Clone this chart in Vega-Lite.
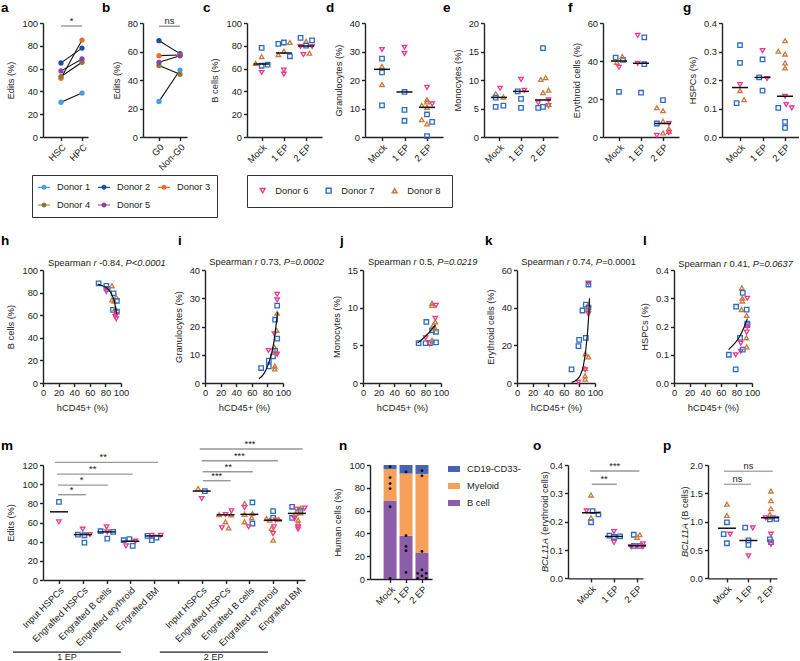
{
"$schema":"https://vega.github.io/schema/vega-lite/v6.json",
"background":"white",
"padding":{"left":1,"top":0,"right":0,"bottom":0},
"autosize":{"type":"pad"},
"spacing":10,
"resolve":{"scale":{"color":"independent","shape":"independent"},"legend":{"color":"independent","shape":"independent"}},
"datasets":{
"da":[{"x":0,"v":30.5,"d":"Donor 1"},{"x":1,"v":38.5,"d":"Donor 1"},{"x":0,"v":65,"d":"Donor 2"},{"x":1,"v":78,"d":"Donor 2"},{"x":0,"v":51.5,"d":"Donor 3"},{"x":1,"v":85,"d":"Donor 3"},{"x":0,"v":53,"d":"Donor 4"},{"x":1,"v":65.5,"d":"Donor 4"},{"x":0,"v":58,"d":"Donor 5"},{"x":1,"v":68.5,"d":"Donor 5"}],
"db":[{"x":0,"v":25,"d":"Donor 1"},{"x":1,"v":47,"d":"Donor 1"},{"x":0,"v":67.6,"d":"Donor 2"},{"x":1,"v":58.5,"d":"Donor 2"},{"x":0,"v":57.1,"d":"Donor 3"},{"x":1,"v":57.5,"d":"Donor 3"},{"x":0,"v":50.1,"d":"Donor 4"},{"x":1,"v":44,"d":"Donor 4"},{"x":0,"v":52.4,"d":"Donor 5"},{"x":1,"v":57,"d":"Donor 5"}],
"dc":[{"x":0,"g":0,"v":78.2,"d":"Donor 7"},{"x":0,"g":0,"v":70.5,"d":"Donor 8"},{"x":-0.27,"g":0,"v":64.6,"d":"Donor 8"},{"x":0,"g":0,"v":62.5,"d":"Donor 7"},{"x":0.27,"g":0,"v":63.4,"d":"Donor 7"},{"x":0,"g":0,"v":56.6,"d":"Donor 6"},
{"x":0.75,"g":1,"v":81.7,"d":"Donor 7"},{"x":1.0,"g":1,"v":82.9,"d":"Donor 7"},{"x":1.27,"g":1,"v":82.9,"d":"Donor 8"},{"x":1.0,"g":1,"v":75.2,"d":"Donor 8"},{"x":0.75,"g":1,"v":72.3,"d":"Donor 8"},{"x":1.27,"g":1,"v":70.8,"d":"Donor 7"},{"x":1.0,"g":1,"v":58.7,"d":"Donor 6"},{"x":1.0,"g":1,"v":55.1,"d":"Donor 6"},
{"x":1.75,"g":2,"v":87,"d":"Donor 7"},{"x":2.0,"g":2,"v":84,"d":"Donor 8"},{"x":2.27,"g":2,"v":84.7,"d":"Donor 7"},{"x":2.0,"g":2,"v":80.2,"d":"Donor 7"},{"x":1.75,"g":2,"v":79.4,"d":"Donor 6"},{"x":2.27,"g":2,"v":79.4,"d":"Donor 6"},{"x":1.88,"g":2,"v":72.3,"d":"Donor 6"},{"x":2.15,"g":2,"v":73.5,"d":"Donor 8"}],
"dd":[{"x":0,"g":0,"v":30.7,"d":"Donor 6"},{"x":0,"g":0,"v":27.5,"d":"Donor 7"},{"x":0,"g":0,"v":24.8,"d":"Donor 8"},{"x":0,"g":0,"v":22.7,"d":"Donor 7"},{"x":0,"g":0,"v":18.4,"d":"Donor 8"},{"x":0,"g":0,"v":11.1,"d":"Donor 7"},
{"x":1,"g":1,"v":31.5,"d":"Donor 6"},{"x":1,"g":1,"v":29.3,"d":"Donor 6"},{"x":1,"g":1,"v":15.8,"d":"Donor 7"},{"x":1,"g":1,"v":9.5,"d":"Donor 7"},{"x":1,"g":1,"v":5.7,"d":"Donor 7"},
{"x":2,"g":2,"v":17.4,"d":"Donor 6"},{"x":2,"g":2,"v":13.1,"d":"Donor 8"},{"x":2,"g":2,"v":12.3,"d":"Donor 8"},{"x":1.77,"g":2,"v":11.1,"d":"Donor 8"},{"x":2.23,"g":2,"v":11.6,"d":"Donor 6"},{"x":2,"g":2,"v":10.4,"d":"Donor 8"},{"x":2,"g":2,"v":7.9,"d":"Donor 7"},{"x":1.77,"g":2,"v":6.1,"d":"Donor 8"},{"x":2.23,"g":2,"v":5.3,"d":"Donor 7"},{"x":2,"g":2,"v":4.6,"d":"Donor 8"},{"x":2,"g":2,"v":0.3,"d":"Donor 7"}],
"de":[{"x":0.05,"g":0,"v":8.55,"d":"Donor 6"},{"x":-0.15,"g":0,"v":7.6,"d":"Donor 8"},{"x":0.2,"g":0,"v":7.0,"d":"Donor 8"},{"x":-0.15,"g":0,"v":6.9,"d":"Donor 7"},{"x":-0.15,"g":0,"v":5.3,"d":"Donor 7"},{"x":0.2,"g":0,"v":5.5,"d":"Donor 7"},
{"x":1.0,"g":1,"v":10.1,"d":"Donor 6"},{"x":1.15,"g":1,"v":8.2,"d":"Donor 6"},{"x":0.85,"g":1,"v":8.0,"d":"Donor 7"},{"x":1.0,"g":1,"v":6.7,"d":"Donor 7"},{"x":1.0,"g":1,"v":5.1,"d":"Donor 7"},
{"x":2.0,"g":2,"v":15.6,"d":"Donor 7"},{"x":2.12,"g":2,"v":10.4,"d":"Donor 8"},{"x":1.9,"g":2,"v":10.1,"d":"Donor 8"},{"x":2.25,"g":2,"v":8.2,"d":"Donor 8"},{"x":2.0,"g":2,"v":7.8,"d":"Donor 8"},{"x":2.25,"g":2,"v":6.5,"d":"Donor 6"},{"x":1.78,"g":2,"v":6.0,"d":"Donor 6"},{"x":1.78,"g":2,"v":5.1,"d":"Donor 7"},{"x":2.0,"g":2,"v":5.3,"d":"Donor 7"},{"x":2.25,"g":2,"v":5.5,"d":"Donor 6"},{"x":2.25,"g":2,"v":5.7,"d":"Donor 8"}],
"df":[{"x":-0.15,"g":0,"v":41.8,"d":"Donor 7"},{"x":0.18,"g":0,"v":40.6,"d":"Donor 7"},{"x":0.15,"g":0,"v":42.4,"d":"Donor 8"},{"x":-0.1,"g":0,"v":39.3,"d":"Donor 8"},{"x":0,"g":0,"v":36.7,"d":"Donor 6"},{"x":0,"g":0,"v":23.8,"d":"Donor 7"},
{"x":0.85,"g":1,"v":53.5,"d":"Donor 6"},{"x":1.15,"g":1,"v":52.4,"d":"Donor 7"},{"x":0.85,"g":1,"v":38.8,"d":"Donor 6"},{"x":1.15,"g":1,"v":38.3,"d":"Donor 7"},{"x":1.0,"g":1,"v":23.3,"d":"Donor 7"},
{"x":2.0,"g":2,"v":19.4,"d":"Donor 7"},{"x":1.72,"g":2,"v":15.4,"d":"Donor 8"},{"x":2.0,"g":2,"v":13.8,"d":"Donor 8"},{"x":2.0,"g":2,"v":8.3,"d":"Donor 8"},{"x":1.72,"g":2,"v":7.1,"d":"Donor 7"},{"x":2.27,"g":2,"v":7.1,"d":"Donor 6"},{"x":2.27,"g":2,"v":4.4,"d":"Donor 8"},{"x":2.27,"g":2,"v":3.0,"d":"Donor 8"},{"x":2.27,"g":2,"v":2.3,"d":"Donor 6"},{"x":2.0,"g":2,"v":2.1,"d":"Donor 8"},{"x":1.72,"g":2,"v":0.9,"d":"Donor 6"}],
"dg":[{"x":0,"g":0,"v":0.322,"d":"Donor 7"},{"x":0,"g":0,"v":0.26,"d":"Donor 7"},{"x":0,"g":0,"v":0.184,"d":"Donor 6"},{"x":0,"g":0,"v":0.163,"d":"Donor 8"},{"x":0.18,"g":0,"v":0.131,"d":"Donor 8"},{"x":-0.15,"g":0,"v":0.119,"d":"Donor 7"},
{"x":1,"g":1,"v":0.303,"d":"Donor 6"},{"x":1,"g":1,"v":0.272,"d":"Donor 7"},{"x":0.85,"g":1,"v":0.209,"d":"Donor 7"},{"x":1.2,"g":1,"v":0.205,"d":"Donor 6"},{"x":1,"g":1,"v":0.163,"d":"Donor 7"},
{"x":2,"g":2,"v":0.338,"d":"Donor 8"},{"x":1.7,"g":2,"v":0.301,"d":"Donor 8"},{"x":2,"g":2,"v":0.291,"d":"Donor 8"},{"x":2,"g":2,"v":0.26,"d":"Donor 8"},{"x":2,"g":2,"v":0.242,"d":"Donor 8"},{"x":2,"g":2,"v":0.143,"d":"Donor 6"},{"x":2.05,"g":2,"v":0.114,"d":"Donor 6"},{"x":1.7,"g":2,"v":0.102,"d":"Donor 7"},{"x":2.3,"g":2,"v":0.102,"d":"Donor 6"},{"x":2,"g":2,"v":0.053,"d":"Donor 7"},{"x":2,"g":2,"v":0.032,"d":"Donor 7"}],
"sh":[{"x":71.3,"v":88.2,"d":"Donor 7"},{"x":81.2,"v":85.9,"d":"Donor 7"},{"x":82.9,"v":83.2,"d":"Donor 7"},{"x":81.2,"v":80.9,"d":"Donor 6"},{"x":88.4,"v":86,"d":"Donor 8"},{"x":90.5,"v":79.4,"d":"Donor 7"},{"x":88.4,"v":73.5,"d":"Donor 8"},{"x":91.3,"v":72.5,"d":"Donor 8"},{"x":93.9,"v":76,"d":"Donor 8"},{"x":94.7,"v":72.7,"d":"Donor 7"},{"x":89.7,"v":64.7,"d":"Donor 7"},{"x":92.6,"v":66,"d":"Donor 8"},{"x":94.7,"v":63.2,"d":"Donor 7"},{"x":92.6,"v":58.8,"d":"Donor 6"},{"x":93.9,"v":56.8,"d":"Donor 6"},{"x":93.5,"v":60.5,"d":"Donor 6"}],
"ch":[{"x":70,"v":87.5},{"x":76,"v":86},{"x":82,"v":84},{"x":86,"v":81},{"x":89,"v":77},{"x":91.5,"v":72},{"x":93,"v":67},{"x":94.5,"v":61}],
"si":[{"x":72,"v":5.3,"d":"Donor 7"},{"x":81.8,"v":7.9,"d":"Donor 7"},{"x":81.8,"v":5.9,"d":"Donor 7"},{"x":87.2,"v":9.4,"d":"Donor 7"},{"x":81.4,"v":11.5,"d":"Donor 6"},{"x":89,"v":12.7,"d":"Donor 8"},{"x":89.9,"v":11.5,"d":"Donor 7"},{"x":89.9,"v":10.9,"d":"Donor 8"},{"x":89.5,"v":6.0,"d":"Donor 8"},{"x":89.5,"v":5.0,"d":"Donor 8"},{"x":92.5,"v":10.2,"d":"Donor 6"},{"x":89,"v":17.4,"d":"Donor 6"},{"x":92,"v":18.6,"d":"Donor 8"},{"x":92.5,"v":15.7,"d":"Donor 7"},{"x":89.9,"v":22.4,"d":"Donor 7"},{"x":92.5,"v":24.7,"d":"Donor 8"},{"x":92.5,"v":27.4,"d":"Donor 7"},{"x":92.5,"v":29.4,"d":"Donor 6"},{"x":92.5,"v":31.4,"d":"Donor 6"}],
"ci":[{"x":69,"v":1.5},{"x":76,"v":3.5},{"x":81,"v":6.5},{"x":85,"v":10},{"x":88,"v":14},{"x":90,"v":18},{"x":91.8,"v":22},{"x":93,"v":25}],
"sj":[{"x":71.3,"v":5.3,"d":"Donor 7"},{"x":80.3,"v":5.3,"d":"Donor 7"},{"x":81.2,"v":8.1,"d":"Donor 7"},{"x":80.3,"v":6.0,"d":"Donor 6"},{"x":85.8,"v":5.3,"d":"Donor 7"},{"x":85,"v":5.2,"d":"Donor 6"},{"x":88.5,"v":5.7,"d":"Donor 8"},{"x":88.5,"v":7.0,"d":"Donor 7"},{"x":88.5,"v":10.3,"d":"Donor 8"},{"x":88.5,"v":10.6,"d":"Donor 8"},{"x":93.6,"v":10.3,"d":"Donor 6"},{"x":93.6,"v":6.8,"d":"Donor 7"},{"x":93.6,"v":5.4,"d":"Donor 7"},{"x":90.2,"v":7.7,"d":"Donor 8"},{"x":92.7,"v":8.1,"d":"Donor 8"},{"x":92.7,"v":8.6,"d":"Donor 6"},{"x":92.7,"v":7.2,"d":"Donor 8"}],
"cj":[{"x":70,"v":5.3},{"x":77,"v":5.9},{"x":83,"v":6.5},{"x":88,"v":7.1},{"x":93,"v":7.7}],
"sk":[{"x":69.9,"v":7.2,"d":"Donor 7"},{"x":78.8,"v":19.6,"d":"Donor 7"},{"x":79.7,"v":22.9,"d":"Donor 7"},{"x":78.8,"v":0.5,"d":"Donor 6"},{"x":83.9,"v":38.5,"d":"Donor 7"},{"x":88.2,"v":24,"d":"Donor 7"},{"x":87.6,"v":15.5,"d":"Donor 8"},{"x":87.3,"v":7.7,"d":"Donor 8"},{"x":87.3,"v":7.0,"d":"Donor 6"},{"x":87.3,"v":3.8,"d":"Donor 8"},{"x":87.3,"v":2.0,"d":"Donor 8"},{"x":91.6,"v":13.8,"d":"Donor 8"},{"x":88.2,"v":41.6,"d":"Donor 7"},{"x":91.6,"v":41.6,"d":"Donor 8"},{"x":91.6,"v":40,"d":"Donor 7"},{"x":91,"v":39,"d":"Donor 8"},{"x":91.6,"v":36.7,"d":"Donor 6"},{"x":91.6,"v":53,"d":"Donor 6"},{"x":91.6,"v":52.3,"d":"Donor 7"}],
"ck":[{"x":70,"v":0.3},{"x":76,"v":1.5},{"x":81,"v":4},{"x":85,"v":9},{"x":88,"v":17},{"x":90,"v":25},{"x":91.5,"v":33},{"x":92.5,"v":40},{"x":93,"v":45}],
"sl":[{"x":70.3,"v":0.1,"d":"Donor 7"},{"x":79.7,"v":0.27,"d":"Donor 7"},{"x":79.1,"v":0.1,"d":"Donor 6"},{"x":79.1,"v":0.048,"d":"Donor 7"},{"x":84.7,"v":0.16,"d":"Donor 7"},{"x":85.6,"v":0.141,"d":"Donor 6"},{"x":85.6,"v":0.112,"d":"Donor 6"},{"x":88.1,"v":0.118,"d":"Donor 7"},{"x":87,"v":0.337,"d":"Donor 8"},{"x":88.1,"v":0.319,"d":"Donor 7"},{"x":87.6,"v":0.3,"d":"Donor 8"},{"x":87.6,"v":0.29,"d":"Donor 8"},{"x":86.5,"v":0.26,"d":"Donor 8"},{"x":93.2,"v":0.239,"d":"Donor 8"},{"x":93.2,"v":0.26,"d":"Donor 7"},{"x":94,"v":0.3,"d":"Donor 6"},{"x":94,"v":0.21,"d":"Donor 7"},{"x":94,"v":0.205,"d":"Donor 7"},{"x":94,"v":0.2,"d":"Donor 6"},{"x":93.2,"v":0.18,"d":"Donor 6"},{"x":92.8,"v":0.16,"d":"Donor 8"},{"x":93.2,"v":0.128,"d":"Donor 8"}],
"cl":[{"x":70,"v":0.118},{"x":76,"v":0.135},{"x":82,"v":0.155},{"x":87,"v":0.18},{"x":91,"v":0.205},{"x":94,"v":0.228}],
"mm":[{"x":0,"g":0,"v":81.6,"d":"Donor 7"},{"x":0,"g":0,"v":60.7,"d":"Donor 6"},
{"x":1.0,"g":1,"v":53,"d":"Donor 6"},{"x":0.8,"g":1,"v":47.4,"d":"Donor 7"},{"x":1.07,"g":1,"v":46.7,"d":"Donor 7"},{"x":1.3,"g":1,"v":47.4,"d":"Donor 6"},{"x":1.07,"g":1,"v":39,"d":"Donor 7"},
{"x":1.75,"g":2,"v":50.9,"d":"Donor 7"},{"x":2.0,"g":2,"v":55.4,"d":"Donor 6"},{"x":2.03,"g":2,"v":50.2,"d":"Donor 6"},{"x":2.28,"g":2,"v":50.2,"d":"Donor 7"},{"x":2.03,"g":2,"v":43.2,"d":"Donor 7"},
{"x":2.72,"g":3,"v":41.5,"d":"Donor 7"},{"x":2.96,"g":3,"v":42.6,"d":"Donor 7"},{"x":2.82,"g":3,"v":35.6,"d":"Donor 6"},{"x":3.1,"g":3,"v":35.6,"d":"Donor 7"},{"x":3.21,"g":3,"v":40.5,"d":"Donor 6"},
{"x":3.72,"g":4,"v":46,"d":"Donor 7"},{"x":3.9,"g":4,"v":46.7,"d":"Donor 6"},{"x":3.9,"g":4,"v":41.5,"d":"Donor 7"},{"x":4.1,"g":4,"v":44.3,"d":"Donor 7"},{"x":4.28,"g":4,"v":46.7,"d":"Donor 6"},
{"x":5.85,"g":6,"v":95.5,"d":"Donor 8"},{"x":6.13,"g":6,"v":92.8,"d":"Donor 7"},{"x":6.0,"g":6,"v":85,"d":"Donor 6"},
{"x":6.73,"g":7,"v":68.3,"d":"Donor 8"},{"x":7.0,"g":7,"v":68.3,"d":"Donor 6"},{"x":7.23,"g":7,"v":68,"d":"Donor 8"},{"x":7.25,"g":7,"v":72.2,"d":"Donor 6"},{"x":7.0,"g":7,"v":60.7,"d":"Donor 8"},{"x":6.85,"g":7,"v":54.4,"d":"Donor 6"},{"x":7.13,"g":7,"v":54.4,"d":"Donor 8"},
{"x":7.8,"g":8,"v":79.8,"d":"Donor 8"},{"x":7.8,"g":8,"v":75.6,"d":"Donor 6"},{"x":8.13,"g":8,"v":80.9,"d":"Donor 7"},{"x":8.13,"g":8,"v":69.5,"d":"Donor 8"},{"x":7.8,"g":8,"v":68.5,"d":"Donor 8"},{"x":8.1,"g":8,"v":64.9,"d":"Donor 8"},{"x":7.8,"g":8,"v":60.7,"d":"Donor 8"},{"x":8.13,"g":8,"v":58.9,"d":"Donor 7"},{"x":7.97,"g":8,"v":55.5,"d":"Donor 6"},
{"x":9.0,"g":9,"v":71.8,"d":"Donor 7"},{"x":8.72,"g":9,"v":64.1,"d":"Donor 8"},{"x":8.86,"g":9,"v":62.4,"d":"Donor 8"},{"x":9.0,"g":9,"v":64.9,"d":"Donor 7"},{"x":9.1,"g":9,"v":62.4,"d":"Donor 6"},{"x":9.24,"g":9,"v":63.1,"d":"Donor 8"},{"x":9.04,"g":9,"v":55.5,"d":"Donor 6"},{"x":8.93,"g":9,"v":53.7,"d":"Donor 8"},{"x":9.0,"g":9,"v":48.4,"d":"Donor 6"},{"x":9.0,"g":9,"v":41.5,"d":"Donor 8"},
{"x":9.8,"g":10,"v":76.4,"d":"Donor 7"},{"x":9.97,"g":10,"v":74,"d":"Donor 6"},{"x":10.15,"g":10,"v":75,"d":"Donor 8"},{"x":10.33,"g":10,"v":75,"d":"Donor 6"},{"x":10.15,"g":10,"v":71.8,"d":"Donor 7"},{"x":9.8,"g":10,"v":64.9,"d":"Donor 7"},{"x":9.95,"g":10,"v":69.5,"d":"Donor 8"},{"x":10.15,"g":10,"v":70,"d":"Donor 8"},{"x":9.9,"g":10,"v":64,"d":"Donor 6"},{"x":10.05,"g":10,"v":62.4,"d":"Donor 8"},{"x":10.05,"g":10,"v":59,"d":"Donor 8"},{"x":10.05,"g":10,"v":55.5,"d":"Donor 6"},{"x":10.05,"g":10,"v":53,"d":"Donor 6"}],
"msig":[{"x1":-0.04,"x2":1.13,"y":89,"xm":0.53,"lab":"*"},{"x1":-0.04,"x2":2.06,"y":99,"xm":0.95,"lab":"*"},{"x1":-0.08,"x2":3.1,"y":110.5,"xm":1.42,"lab":"**"},{"x1":-0.17,"x2":4.16,"y":122.7,"xm":1.86,"lab":"**"},{"x1":6.05,"x2":7.21,"y":103.6,"xm":6.63,"lab":"***"},{"x1":6.04,"x2":8.15,"y":113,"xm":7.11,"lab":"**"},{"x1":6.0,"x2":9.2,"y":124.5,"xm":7.58,"lab":"***"},{"x1":5.92,"x2":10.24,"y":136.7,"xm":8.03,"lab":"***"}],
"mgrp":[{"x1":-1.93,"x2":2.6,"y":-75.3,"xm":0.34,"lab":"1 EP"},{"x1":4.24,"x2":8.78,"y":-75.3,"xm":6.5,"lab":"2 EP"}],
"nbar":[{"x":0,"lo":0,"hi":68.8,"cat":"B cell"},{"x":0,"lo":68.8,"hi":96.3,"cat":"Myeloid"},{"x":0,"lo":96.3,"hi":100,"cat":"CD19-CD33-"},{"x":1,"lo":0,"hi":38,"cat":"B cell"},{"x":1,"lo":38,"hi":92.5,"cat":"Myeloid"},{"x":1,"lo":92.5,"hi":100,"cat":"CD19-CD33-"},{"x":2,"lo":0,"hi":22.8,"cat":"B cell"},{"x":2,"lo":22.8,"hi":92.2,"cat":"Myeloid"},{"x":2,"lo":92.2,"hi":100,"cat":"CD19-CD33-"}],
"ndot":[{"x":0,"v":98.5},{"x":0,"v":89},{"x":0,"v":83.7},{"x":0,"v":79.3},{"x":0,"v":63.4},{"x":0,"v":0.6},{"x":1,"v":93.9},{"x":1,"v":38},{"x":1,"v":28.6},{"x":1,"v":24.8},{"x":1,"v":5.8},{"x":2,"v":95},{"x":2,"v":90.5},{"x":2,"v":24.2},{"x":2,"v":8},{"x":1.73,"v":5},{"x":2.27,"v":5},{"x":2,"v":2.7},{"x":1.73,"v":0.6},{"x":2.27,"v":0.6}],
"do":[{"x":-0.19,"g":0,"v":0.238,"d":"Donor 6"},{"x":0.07,"g":0,"v":0.237,"d":"Donor 7"},{"x":0.32,"g":0,"v":0.226,"d":"Donor 7"},{"x":0,"g":0,"v":0.294,"d":"Donor 8"},{"x":0,"g":0,"v":0.214,"d":"Donor 8"},{"x":0,"g":0,"v":0.198,"d":"Donor 7"},
{"x":1,"g":1,"v":0.165,"d":"Donor 6"},{"x":0.8,"g":1,"v":0.151,"d":"Donor 7"},{"x":1,"g":1,"v":0.146,"d":"Donor 7"},{"x":1.26,"g":1,"v":0.148,"d":"Donor 7"},{"x":1,"g":1,"v":0.127,"d":"Donor 6"},
{"x":1.86,"g":2,"v":0.154,"d":"Donor 7"},{"x":2.12,"g":2,"v":0.154,"d":"Donor 8"},{"x":2,"g":2,"v":0.145,"d":"Donor 8"},{"x":1.74,"g":2,"v":0.112,"d":"Donor 6"},{"x":1.86,"g":2,"v":0.115,"d":"Donor 7"},{"x":2.12,"g":2,"v":0.115,"d":"Donor 7"},{"x":2.26,"g":2,"v":0.122,"d":"Donor 6"},{"x":2.26,"g":2,"v":0.112,"d":"Donor 6"},{"x":2,"g":2,"v":0.114,"d":"Donor 6"}],
"osig":[{"x1":0.03,"x2":1.12,"y":0.332,"xm":0.57,"lab":"**"},{"x1":-0.04,"x2":2.1,"y":0.379,"xm":1.03,"lab":"***"}],
"dp":[{"x":0,"g":0,"v":1.31,"d":"Donor 8"},{"x":0,"g":0,"v":1.11,"d":"Donor 8"},{"x":0,"g":0,"v":0.99,"d":"Donor 7"},{"x":-0.15,"g":0,"v":0.78,"d":"Donor 7"},{"x":0.15,"g":0,"v":0.78,"d":"Donor 6"},{"x":0,"g":0,"v":0.62,"d":"Donor 7"},
{"x":0.85,"g":1,"v":0.894,"d":"Donor 7"},{"x":1.2,"g":1,"v":0.89,"d":"Donor 6"},{"x":1,"g":1,"v":0.67,"d":"Donor 7"},{"x":1,"g":1,"v":0.59,"d":"Donor 7"},{"x":1,"g":1,"v":0.4,"d":"Donor 6"},
{"x":2.05,"g":2,"v":1.54,"d":"Donor 8"},{"x":2.05,"g":2,"v":1.37,"d":"Donor 8"},{"x":2.05,"g":2,"v":1.23,"d":"Donor 8"},{"x":2,"g":2,"v":1.13,"d":"Donor 8"},{"x":1.92,"g":2,"v":1.08,"d":"Donor 8"},{"x":1.8,"g":2,"v":1.07,"d":"Donor 6"},{"x":2.15,"g":2,"v":1.07,"d":"Donor 6"},{"x":2,"g":2,"v":1.04,"d":"Donor 7"},{"x":2.3,"g":2,"v":1.05,"d":"Donor 7"},{"x":2.05,"g":2,"v":0.78,"d":"Donor 6"},{"x":2,"g":2,"v":0.69,"d":"Donor 7"},{"x":2.05,"g":2,"v":0.64,"d":"Donor 7"},{"x":2.05,"g":2,"v":0.6,"d":"Donor 6"}],
"psig":[{"x1":-0.14,"x2":1.12,"y":1.66,"xm":0.49,"lab":"ns"},{"x1":-0.14,"x2":2.14,"y":1.89,"xm":1.0,"lab":"ns"}]
},
"vconcat":[
{"hconcat":[
{"width":45,"height":114,"resolve":{"axis":{"x":"independent","y":"independent"}},
"layer":[
{"data":{"name":"da"},"mark":{"type":"line","color":"#111","strokeWidth":1.1},"encoding":{"x":{"field":"x","type":"quantitative","scale":{"domain":[-0.857,1.286],"nice":false,"zero":false},"axis":{"values":[0,1],"labelExpr":"['HSC','HPC'][datum.value]","labelAngle":-45,"labelAlign":"right","labelBaseline":"top","labelOverlap":false,"title":null}},"y":{"field":"v","type":"quantitative","scale":{"domain":[0,100],"nice":false},"axis":{"values":[0,20,40,60,80,100],"labelOverlap":false,"title":"Edits (%)"}},"detail":{"field":"d","type":"nominal"}}},
{"data":{"name":"da"},"mark":{"type":"circle","size":28,"opacity":1},"encoding":{"x":{"field":"x","type":"quantitative","axis":null},"y":{"field":"v","type":"quantitative","axis":null},"color":{"field":"d","type":"nominal","scale":{"domain":["Donor 1","Donor 2","Donor 3","Donor 4","Donor 5"],"range":["#4A9DE0","#1D4F9E","#F26A24","#8A7A36","#8E42A3"]},"legend":{"orient":"none","legendX":-11,"legendY":152,"direction":"horizontal","columns":3,"title":null,"strokeColor":"#333","padding":6,"symbolType":"M-1,-0.1H1V0.1H-1Z M0.42,0A0.42,0.42,0,1,1,-0.42,0A0.42,0.42,0,1,1,0.42,0Z","symbolSize":144,"labelOffset":7,"columnPadding":7,"rowPadding":6,"symbolStrokeWidth":0}}}},
{"data":{"values":[{"x1":0,"x2":1,"y":97.4,"xm":0.5,"lab":"*"}]},"mark":{"type":"rule","color":"#999","strokeWidth":1.4},"encoding":{"x":{"field":"x1","type":"quantitative","axis":null},"x2":{"field":"x2"},"y":{"field":"y","type":"quantitative","axis":null}}},
{"data":{"values":[{"x1":0,"x2":1,"y":97.4,"xm":0.5,"lab":"*"}]},"mark":{"type":"text","baseline":"alphabetic","dy":-2},"encoding":{"x":{"field":"xm","type":"quantitative","axis":null},"y":{"field":"y","type":"quantitative","axis":null},"text":{"field":"lab"}}},
{"data":{"values":[{"xa":0,"ya":119.3,"yb":-75.4}]},"mark":{"type":"rule","opacity":0},"encoding":{"x":{"field":"xa","type":"quantitative","axis":null},"y":{"field":"ya","type":"quantitative","axis":null},"y2":{"field":"yb"}}},
{"data":{"values":[{"t":"a","tx":-0.857,"ty":100}]},"mark":{"type":"text","align":"left","baseline":"top","dx":-42,"dy":-22,"fontSize":13.5,"fontWeight":"bold","color":"#000"},"encoding":{"x":{"field":"tx","type":"quantitative","axis":null},"y":{"field":"ty","type":"quantitative","axis":null},"text":{"field":"t"}}}
]},
{"width":25,"height":1,"data":{"values":[]},"mark":"point"},
{"width":44,"height":114,"resolve":{"axis":{"x":"independent","y":"independent"}},
"layer":[
{"data":{"name":"db"},"mark":{"type":"line","color":"#111","strokeWidth":1.1},"encoding":{"x":{"field":"x","type":"quantitative","scale":{"domain":[-0.762,1.333],"nice":false,"zero":false},"axis":{"values":[0,1],"labelExpr":"['G0','Non-G0'][datum.value]","labelAngle":-45,"labelAlign":"right","labelBaseline":"top","labelOverlap":false,"title":null}},"y":{"field":"v","type":"quantitative","scale":{"domain":[0,80],"nice":false},"axis":{"values":[0,20,40,60,80],"labelOverlap":false,"title":"Edits (%)"}},"detail":{"field":"d","type":"nominal"}}},
{"data":{"name":"db"},"mark":{"type":"circle","size":28,"opacity":1},"encoding":{"x":{"field":"x","type":"quantitative","axis":null},"y":{"field":"v","type":"quantitative","axis":null},"color":{"field":"d","type":"nominal","scale":{"domain":["Donor 1","Donor 2","Donor 3","Donor 4","Donor 5"],"range":["#4A9DE0","#1D4F9E","#F26A24","#8A7A36","#8E42A3"]},"legend":null}}},
{"data":{"values":[{"x1":0,"x2":1,"y":77.7,"xm":0.5,"lab":"ns"}]},"mark":{"type":"rule","color":"#999","strokeWidth":1.4},"encoding":{"x":{"field":"x1","type":"quantitative","axis":null},"x2":{"field":"x2"},"y":{"field":"y","type":"quantitative","axis":null}}},
{"data":{"values":[{"x1":0,"x2":1,"y":77.7,"xm":0.5,"lab":"ns"}]},"mark":{"type":"text","baseline":"alphabetic","dy":-2},"encoding":{"x":{"field":"xm","type":"quantitative","axis":null},"y":{"field":"y","type":"quantitative","axis":null},"text":{"field":"lab"}}},
{"data":{"values":[{"t":"b","tx":-0.762,"ty":80}]},"mark":{"type":"text","align":"left","baseline":"top","dx":-41,"dy":-22,"fontSize":13.5,"fontWeight":"bold","color":"#000"},"encoding":{"x":{"field":"tx","type":"quantitative","axis":null},"y":{"field":"ty","type":"quantitative","axis":null},"text":{"field":"t"}}}
]},
{"width":30,"height":1,"data":{"values":[]},"mark":"point"},
{"width":75,"height":114,"data":{"name":"dc"},"resolve":{"axis":{"x":"independent","y":"independent"}},
"layer":[
{"mark":{"type":"point","filled":false,"strokeWidth":1.3,"size":20,"opacity":1},"encoding":{"x":{"field":"x","type":"quantitative","scale":{"domain":[-0.66,2.716],"nice":false,"zero":false},"axis":{"values":[0,1,2],"labelExpr":"['Mock','1 EP','2 EP'][datum.value]","labelAngle":-45,"labelAlign":"right","labelBaseline":"top","labelOverlap":false,"title":null}},"y":{"field":"v","type":"quantitative","scale":{"domain":[0,100],"nice":false},"axis":{"values":[0,20,40,60,80,100],"labelOverlap":false,"title":"B cells (%)"}},
"color":{"field":"d","type":"nominal","scale":{"domain":["Donor 6","Donor 7","Donor 8"],"range":["#EE3A8C","#2E6BC4","#C97A3D"]},"legend":{"orient":"none","legendX":0,"legendY":152,"direction":"horizontal","columns":3,"title":null,"strokeColor":"#333","padding":11,"labelOffset":8,"columnPadding":14,"symbolStrokeWidth":1.4,"symbolSize":24}},
"shape":{"field":"d","type":"nominal","scale":{"domain":["Donor 6","Donor 7","Donor 8"],"range":["triangle-down","square","triangle-up"]},"legend":{"orient":"none","legendX":0,"legendY":152,"direction":"horizontal","columns":3,"title":null,"strokeColor":"#333","padding":11,"labelOffset":8,"columnPadding":14,"symbolStrokeWidth":1.4,"symbolSize":24}}}},
{"mark":{"type":"tick","orient":"horizontal","color":"#111","thickness":1.5,"size":16},"encoding":{"x":{"field":"g","type":"quantitative","axis":null},"y":{"field":"v","aggregate":"median","type":"quantitative","axis":null}}},
{"data":{"values":[{"t":"c","tx":-0.66,"ty":100}]},"mark":{"type":"text","align":"left","baseline":"top","dx":-44,"dy":-22,"fontSize":13.5,"fontWeight":"bold","color":"#000"},"encoding":{"x":{"field":"tx","type":"quantitative","axis":null},"y":{"field":"ty","type":"quantitative","axis":null},"text":{"field":"t"}}}
]},
{"width":13,"height":1,"data":{"values":[]},"mark":"point"},
{"width":78,"height":114,"data":{"name":"dd"},"resolve":{"axis":{"x":"independent","y":"independent"}},
"layer":[
{"mark":{"type":"point","filled":false,"strokeWidth":1.3,"size":20,"opacity":1},"encoding":{"x":{"field":"x","type":"quantitative","scale":{"domain":[-0.756,2.711],"nice":false,"zero":false},"axis":{"values":[0,1,2],"labelExpr":"['Mock','1 EP','2 EP'][datum.value]","labelAngle":-45,"labelAlign":"right","labelBaseline":"top","labelOverlap":false,"title":null}},"y":{"field":"v","type":"quantitative","scale":{"domain":[0,40],"nice":false},"axis":{"values":[0,10,20,30,40],"labelOverlap":false,"title":"Granulocytes (%)"}},
"color":{"field":"d","type":"nominal","scale":{"domain":["Donor 6","Donor 7","Donor 8"],"range":["#EE3A8C","#2E6BC4","#C97A3D"]},"legend":null},
"shape":{"field":"d","type":"nominal","scale":{"domain":["Donor 6","Donor 7","Donor 8"],"range":["triangle-down","square","triangle-up"]},"legend":null}}},
{"mark":{"type":"tick","orient":"horizontal","color":"#111","thickness":1.5,"size":16},"encoding":{"x":{"field":"g","type":"quantitative","axis":null},"y":{"field":"v","aggregate":"median","type":"quantitative","axis":null}}},
{"data":{"values":[{"t":"d","tx":-0.756,"ty":40}]},"mark":{"type":"text","align":"left","baseline":"top","dx":-39,"dy":-22,"fontSize":13.5,"fontWeight":"bold","color":"#000"},"encoding":{"x":{"field":"tx","type":"quantitative","axis":null},"y":{"field":"ty","type":"quantitative","axis":null},"text":{"field":"t"}}}
]},
{"width":11,"height":1,"data":{"values":[]},"mark":"point"},
{"width":74,"height":114,"data":{"name":"de"},"resolve":{"axis":{"x":"independent","y":"independent"}},
"layer":[
{"mark":{"type":"point","filled":false,"strokeWidth":1.3,"size":20,"opacity":1},"encoding":{"x":{"field":"x","type":"quantitative","scale":{"domain":[-0.68,2.68],"nice":false,"zero":false},"axis":{"values":[0,1,2],"labelExpr":"['Mock','1 EP','2 EP'][datum.value]","labelAngle":-45,"labelAlign":"right","labelBaseline":"top","labelOverlap":false,"title":null}},"y":{"field":"v","type":"quantitative","scale":{"domain":[0,20],"nice":false},"axis":{"values":[0,5,10,15,20],"labelOverlap":false,"title":"Monocytes (%)"}},
"color":{"field":"d","type":"nominal","scale":{"domain":["Donor 6","Donor 7","Donor 8"],"range":["#EE3A8C","#2E6BC4","#C97A3D"]},"legend":null},
"shape":{"field":"d","type":"nominal","scale":{"domain":["Donor 6","Donor 7","Donor 8"],"range":["triangle-down","square","triangle-up"]},"legend":null}}},
{"mark":{"type":"tick","orient":"horizontal","color":"#111","thickness":1.5,"size":16},"encoding":{"x":{"field":"g","type":"quantitative","axis":null},"y":{"field":"v","aggregate":"median","type":"quantitative","axis":null}}},
{"data":{"values":[{"t":"e","tx":-0.68,"ty":20}]},"mark":{"type":"text","align":"left","baseline":"top","dx":-41,"dy":-22,"fontSize":13.5,"fontWeight":"bold","color":"#000"},"encoding":{"x":{"field":"tx","type":"quantitative","axis":null},"y":{"field":"ty","type":"quantitative","axis":null},"text":{"field":"t"}}}
]},
{"width":15,"height":1,"data":{"values":[]},"mark":"point"},
{"width":76,"height":114,"data":{"name":"df"},"resolve":{"axis":{"x":"independent","y":"independent"}},
"layer":[
{"mark":{"type":"point","filled":false,"strokeWidth":1.3,"size":20,"opacity":1},"encoding":{"x":{"field":"x","type":"quantitative","scale":{"domain":[-0.727,2.727],"nice":false,"zero":false},"axis":{"values":[0,1,2],"labelExpr":"['Mock','1 EP','2 EP'][datum.value]","labelAngle":-45,"labelAlign":"right","labelBaseline":"top","labelOverlap":false,"title":null}},"y":{"field":"v","type":"quantitative","scale":{"domain":[0,60],"nice":false},"axis":{"values":[0,20,40,60],"labelOverlap":false,"title":"Erythroid cells (%)"}},
"color":{"field":"d","type":"nominal","scale":{"domain":["Donor 6","Donor 7","Donor 8"],"range":["#EE3A8C","#2E6BC4","#C97A3D"]},"legend":null},
"shape":{"field":"d","type":"nominal","scale":{"domain":["Donor 6","Donor 7","Donor 8"],"range":["triangle-down","square","triangle-up"]},"legend":null}}},
{"mark":{"type":"tick","orient":"horizontal","color":"#111","thickness":1.5,"size":16},"encoding":{"x":{"field":"g","type":"quantitative","axis":null},"y":{"field":"v","aggregate":"median","type":"quantitative","axis":null}}},
{"data":{"values":[{"t":"f","tx":-0.727,"ty":60}]},"mark":{"type":"text","align":"left","baseline":"top","dx":-35,"dy":-22,"fontSize":13.5,"fontWeight":"bold","color":"#000"},"encoding":{"x":{"field":"tx","type":"quantitative","axis":null},"y":{"field":"ty","type":"quantitative","axis":null},"text":{"field":"t"}}}
]},
{"width":13,"height":1,"data":{"values":[]},"mark":"point"},
{"width":77,"height":114,"data":{"name":"dg"},"resolve":{"axis":{"x":"independent","y":"independent"}},
"layer":[
{"mark":{"type":"point","filled":false,"strokeWidth":1.3,"size":20,"opacity":1},"encoding":{"x":{"field":"x","type":"quantitative","scale":{"domain":[-0.8,2.62],"nice":false,"zero":false},"axis":{"values":[0,1,2],"labelExpr":"['Mock','1 EP','2 EP'][datum.value]","labelAngle":-45,"labelAlign":"right","labelBaseline":"top","labelOverlap":false,"title":null}},"y":{"field":"v","type":"quantitative","scale":{"domain":[0,0.4],"nice":false},"axis":{"values":[0,0.1,0.2,0.3,0.4],"format":".1f","labelOverlap":false,"title":"HSPCs (%)"}},
"color":{"field":"d","type":"nominal","scale":{"domain":["Donor 6","Donor 7","Donor 8"],"range":["#EE3A8C","#2E6BC4","#C97A3D"]},"legend":null},
"shape":{"field":"d","type":"nominal","scale":{"domain":["Donor 6","Donor 7","Donor 8"],"range":["triangle-down","square","triangle-up"]},"legend":null}}},
{"mark":{"type":"tick","orient":"horizontal","color":"#111","thickness":1.5,"size":16},"encoding":{"x":{"field":"g","type":"quantitative","axis":null},"y":{"field":"v","aggregate":"median","type":"quantitative","axis":null}}},
{"data":{"values":[{"t":"g","tx":-0.8,"ty":0.4}]},"mark":{"type":"text","align":"left","baseline":"top","dx":-39,"dy":-22,"fontSize":13.5,"fontWeight":"bold","color":"#000"},"encoding":{"x":{"field":"tx","type":"quantitative","axis":null},"y":{"field":"ty","type":"quantitative","axis":null},"text":{"field":"t"}}}
]}
],"spacing":15,"bounds":"flush","resolve":{"scale":{"color":"independent","shape":"independent"},"legend":{"color":"independent","shape":"independent"}}},
{"hconcat":[
{"width":78,"height":113,"resolve":{"axis":{"x":"independent","y":"independent"}},
"layer":[
{"data":{"name":"sh"},"mark":{"type":"point","filled":false,"strokeWidth":1.3,"size":20,"opacity":1},"encoding":{"x":{"field":"x","type":"quantitative","scale":{"domain":[0,100],"nice":false},"axis":{"values":[0,20,40,60,80,100],"labelAngle":0,"labelOverlap":false,"title":"hCD45+ (%)"}},"y":{"field":"v","type":"quantitative","scale":{"domain":[0,100],"nice":false},"axis":{"values":[0,20,40,60,80,100],"labelOverlap":false,"title":"B cells (%)"}},
"color":{"field":"d","type":"nominal","scale":{"domain":["Donor 6","Donor 7","Donor 8"],"range":["#EE3A8C","#2E6BC4","#C97A3D"]},"legend":null},
"shape":{"field":"d","type":"nominal","scale":{"domain":["Donor 6","Donor 7","Donor 8"],"range":["triangle-down","square","triangle-up"]},"legend":null}}},
{"data":{"name":"ch"},"mark":{"type":"line","color":"#111","strokeWidth":1.2,"interpolate":"monotone"},"encoding":{"x":{"field":"x","type":"quantitative","axis":null},"y":{"field":"v","type":"quantitative","axis":null}}},
{"data":{"values":[{"t":"Spearman","tx":6.4,"ty":106.2}]},"mark":{"type":"text","align":"left","baseline":"middle","dx":0},"encoding":{"x":{"field":"tx","type":"quantitative","axis":null},"y":{"field":"ty","type":"quantitative","axis":null},"text":{"field":"t"}}},
{"data":{"values":[{"t":"r","tx":6.4,"ty":106.2}]},"mark":{"type":"text","align":"left","baseline":"middle","dx":45.5,"fontStyle":"italic"},"encoding":{"x":{"field":"tx","type":"quantitative","axis":null},"y":{"field":"ty","type":"quantitative","axis":null},"text":{"field":"t"}}},
{"data":{"values":[{"t":"-0.84,","tx":6.4,"ty":106.2}]},"mark":{"type":"text","align":"left","baseline":"middle","dx":51.2},"encoding":{"x":{"field":"tx","type":"quantitative","axis":null},"y":{"field":"ty","type":"quantitative","axis":null},"text":{"field":"t"}}},
{"data":{"values":[{"t":"P<0.0001","tx":6.4,"ty":106.2}]},"mark":{"type":"text","align":"left","baseline":"middle","dx":77.6,"fontStyle":"italic"},"encoding":{"x":{"field":"tx","type":"quantitative","axis":null},"y":{"field":"ty","type":"quantitative","axis":null},"text":{"field":"t"}}},
{"data":{"values":[{"xa":0,"ya":131.9,"yb":-38.9}]},"mark":{"type":"rule","opacity":0},"encoding":{"x":{"field":"xa","type":"quantitative","axis":null},"y":{"field":"ya","type":"quantitative","axis":null},"y2":{"field":"yb"}}},
{"data":{"values":[{"t":"h","tx":0,"ty":100}]},"mark":{"type":"text","align":"left","baseline":"top","dx":-42,"dy":-36,"fontSize":13.5,"fontWeight":"bold","color":"#000"},"encoding":{"x":{"field":"tx","type":"quantitative","axis":null},"y":{"field":"ty","type":"quantitative","axis":null},"text":{"field":"t"}}}
]},
{"width":54,"height":1,"data":{"values":[]},"mark":"point"},
{"width":78,"height":113,"resolve":{"axis":{"x":"independent","y":"independent"}},
"layer":[
{"data":{"name":"si"},"mark":{"type":"point","filled":false,"strokeWidth":1.3,"size":20,"opacity":1},"encoding":{"x":{"field":"x","type":"quantitative","scale":{"domain":[0,100],"nice":false},"axis":{"values":[0,20,40,60,80,100],"labelAngle":0,"labelOverlap":false,"title":"hCD45+ (%)"}},"y":{"field":"v","type":"quantitative","scale":{"domain":[0,40],"nice":false},"axis":{"values":[0,10,20,30,40],"labelOverlap":false,"title":"Granulocytes (%)"}},
"color":{"field":"d","type":"nominal","scale":{"domain":["Donor 6","Donor 7","Donor 8"],"range":["#EE3A8C","#2E6BC4","#C97A3D"]},"legend":null},
"shape":{"field":"d","type":"nominal","scale":{"domain":["Donor 6","Donor 7","Donor 8"],"range":["triangle-down","square","triangle-up"]},"legend":null}}},
{"data":{"name":"ci"},"mark":{"type":"line","color":"#111","strokeWidth":1.2,"interpolate":"monotone"},"encoding":{"x":{"field":"x","type":"quantitative","axis":null},"y":{"field":"v","type":"quantitative","axis":null}}},
{"data":{"values":[{"t":"Spearman","tx":5.5,"ty":42.7}]},"mark":{"type":"text","align":"left","baseline":"middle","dx":0},"encoding":{"x":{"field":"tx","type":"quantitative","axis":null},"y":{"field":"ty","type":"quantitative","axis":null},"text":{"field":"t"}}},
{"data":{"values":[{"t":"r","tx":5.5,"ty":42.7}]},"mark":{"type":"text","align":"left","baseline":"middle","dx":45.5,"fontStyle":"italic"},"encoding":{"x":{"field":"tx","type":"quantitative","axis":null},"y":{"field":"ty","type":"quantitative","axis":null},"text":{"field":"t"}}},
{"data":{"values":[{"t":"0.73,","tx":5.5,"ty":42.7}]},"mark":{"type":"text","align":"left","baseline":"middle","dx":51.2},"encoding":{"x":{"field":"tx","type":"quantitative","axis":null},"y":{"field":"ty","type":"quantitative","axis":null},"text":{"field":"t"}}},
{"data":{"values":[{"t":"P=0.0002","tx":5.5,"ty":42.7}]},"mark":{"type":"text","align":"left","baseline":"middle","dx":74.5,"fontStyle":"italic"},"encoding":{"x":{"field":"tx","type":"quantitative","axis":null},"y":{"field":"ty","type":"quantitative","axis":null},"text":{"field":"t"}}},
{"data":{"values":[{"t":"i","tx":0,"ty":40}]},"mark":{"type":"text","align":"left","baseline":"top","dx":-27,"dy":-36,"fontSize":13.5,"fontWeight":"bold","color":"#000"},"encoding":{"x":{"field":"tx","type":"quantitative","axis":null},"y":{"field":"ty","type":"quantitative","axis":null},"text":{"field":"t"}}}
]},
{"width":50,"height":1,"data":{"values":[]},"mark":"point"},
{"width":78,"height":113,"resolve":{"axis":{"x":"independent","y":"independent"}},
"layer":[
{"data":{"name":"sj"},"mark":{"type":"point","filled":false,"strokeWidth":1.3,"size":20,"opacity":1},"encoding":{"x":{"field":"x","type":"quantitative","scale":{"domain":[0,100],"nice":false},"axis":{"values":[0,20,40,60,80,100],"labelAngle":0,"labelOverlap":false,"title":"hCD45+ (%)"}},"y":{"field":"v","type":"quantitative","scale":{"domain":[0,15],"nice":false},"axis":{"values":[0,5,10,15],"labelOverlap":false,"title":"Monocytes (%)"}},
"color":{"field":"d","type":"nominal","scale":{"domain":["Donor 6","Donor 7","Donor 8"],"range":["#EE3A8C","#2E6BC4","#C97A3D"]},"legend":null},
"shape":{"field":"d","type":"nominal","scale":{"domain":["Donor 6","Donor 7","Donor 8"],"range":["triangle-down","square","triangle-up"]},"legend":null}}},
{"data":{"name":"cj"},"mark":{"type":"line","color":"#111","strokeWidth":1.2,"interpolate":"monotone"},"encoding":{"x":{"field":"x","type":"quantitative","axis":null},"y":{"field":"v","type":"quantitative","axis":null}}},
{"data":{"values":[{"t":"Spearman","tx":6.4,"ty":16.0}]},"mark":{"type":"text","align":"left","baseline":"middle","dx":0},"encoding":{"x":{"field":"tx","type":"quantitative","axis":null},"y":{"field":"ty","type":"quantitative","axis":null},"text":{"field":"t"}}},
{"data":{"values":[{"t":"r","tx":6.4,"ty":16.0}]},"mark":{"type":"text","align":"left","baseline":"middle","dx":45.5,"fontStyle":"italic"},"encoding":{"x":{"field":"tx","type":"quantitative","axis":null},"y":{"field":"ty","type":"quantitative","axis":null},"text":{"field":"t"}}},
{"data":{"values":[{"t":"0.5,","tx":6.4,"ty":16.0}]},"mark":{"type":"text","align":"left","baseline":"middle","dx":51.2},"encoding":{"x":{"field":"tx","type":"quantitative","axis":null},"y":{"field":"ty","type":"quantitative","axis":null},"text":{"field":"t"}}},
{"data":{"values":[{"t":"P=0.0219","tx":6.4,"ty":16.0}]},"mark":{"type":"text","align":"left","baseline":"middle","dx":69.3,"fontStyle":"italic"},"encoding":{"x":{"field":"tx","type":"quantitative","axis":null},"y":{"field":"ty","type":"quantitative","axis":null},"text":{"field":"t"}}},
{"data":{"values":[{"t":"j","tx":0,"ty":15}]},"mark":{"type":"text","align":"left","baseline":"top","dx":-23,"dy":-36,"fontSize":13.5,"fontWeight":"bold","color":"#000"},"encoding":{"x":{"field":"tx","type":"quantitative","axis":null},"y":{"field":"ty","type":"quantitative","axis":null},"text":{"field":"t"}}}
]},
{"width":46,"height":1,"data":{"values":[]},"mark":"point"},
{"width":78,"height":113,"resolve":{"axis":{"x":"independent","y":"independent"}},
"layer":[
{"data":{"name":"sk"},"mark":{"type":"point","filled":false,"strokeWidth":1.3,"size":20,"opacity":1},"encoding":{"x":{"field":"x","type":"quantitative","scale":{"domain":[0,100],"nice":false},"axis":{"values":[0,20,40,60,80,100],"labelAngle":0,"labelOverlap":false,"title":"hCD45+ (%)"}},"y":{"field":"v","type":"quantitative","scale":{"domain":[0,60],"nice":false},"axis":{"values":[0,20,40,60],"labelOverlap":false,"title":"Erythroid cells (%)"}},
"color":{"field":"d","type":"nominal","scale":{"domain":["Donor 6","Donor 7","Donor 8"],"range":["#EE3A8C","#2E6BC4","#C97A3D"]},"legend":null},
"shape":{"field":"d","type":"nominal","scale":{"domain":["Donor 6","Donor 7","Donor 8"],"range":["triangle-down","square","triangle-up"]},"legend":null}}},
{"data":{"name":"ck"},"mark":{"type":"line","color":"#111","strokeWidth":1.2,"interpolate":"monotone"},"encoding":{"x":{"field":"x","type":"quantitative","axis":null},"y":{"field":"v","type":"quantitative","axis":null}}},
{"data":{"values":[{"t":"Spearman","tx":5.5,"ty":64.1}]},"mark":{"type":"text","align":"left","baseline":"middle","dx":0},"encoding":{"x":{"field":"tx","type":"quantitative","axis":null},"y":{"field":"ty","type":"quantitative","axis":null},"text":{"field":"t"}}},
{"data":{"values":[{"t":"r","tx":5.5,"ty":64.1}]},"mark":{"type":"text","align":"left","baseline":"middle","dx":45.5,"fontStyle":"italic"},"encoding":{"x":{"field":"tx","type":"quantitative","axis":null},"y":{"field":"ty","type":"quantitative","axis":null},"text":{"field":"t"}}},
{"data":{"values":[{"t":"0.74,","tx":5.5,"ty":64.1}]},"mark":{"type":"text","align":"left","baseline":"middle","dx":51.2},"encoding":{"x":{"field":"tx","type":"quantitative","axis":null},"y":{"field":"ty","type":"quantitative","axis":null},"text":{"field":"t"}}},
{"data":{"values":[{"t":"P=","tx":5.5,"ty":64.1}]},"mark":{"type":"text","align":"left","baseline":"middle","dx":74.5,"fontStyle":"italic"},"encoding":{"x":{"field":"tx","type":"quantitative","axis":null},"y":{"field":"ty","type":"quantitative","axis":null},"text":{"field":"t"}}},
{"data":{"values":[{"t":"0.0001","tx":5.5,"ty":64.1}]},"mark":{"type":"text","align":"left","baseline":"middle","dx":86.1},"encoding":{"x":{"field":"tx","type":"quantitative","axis":null},"y":{"field":"ty","type":"quantitative","axis":null},"text":{"field":"t"}}},
{"data":{"values":[{"t":"k","tx":0,"ty":60}]},"mark":{"type":"text","align":"left","baseline":"top","dx":-32,"dy":-36,"fontSize":13.5,"fontWeight":"bold","color":"#000"},"encoding":{"x":{"field":"tx","type":"quantitative","axis":null},"y":{"field":"ty","type":"quantitative","axis":null},"text":{"field":"t"}}}
]},
{"width":49,"height":1,"data":{"values":[]},"mark":"point"},
{"width":78,"height":113,"resolve":{"axis":{"x":"independent","y":"independent"}},
"layer":[
{"data":{"name":"sl"},"mark":{"type":"point","filled":false,"strokeWidth":1.3,"size":20,"opacity":1},"encoding":{"x":{"field":"x","type":"quantitative","scale":{"domain":[0,100],"nice":false},"axis":{"values":[0,20,40,60,80,100],"labelAngle":0,"labelOverlap":false,"title":"hCD45+ (%)"}},"y":{"field":"v","type":"quantitative","scale":{"domain":[0,0.4],"nice":false},"axis":{"values":[0,0.1,0.2,0.3,0.4],"format":".1f","labelOverlap":false,"title":"HSPCs (%)"}},
"color":{"field":"d","type":"nominal","scale":{"domain":["Donor 6","Donor 7","Donor 8"],"range":["#EE3A8C","#2E6BC4","#C97A3D"]},"legend":null},
"shape":{"field":"d","type":"nominal","scale":{"domain":["Donor 6","Donor 7","Donor 8"],"range":["triangle-down","square","triangle-up"]},"legend":null}}},
{"data":{"name":"cl"},"mark":{"type":"line","color":"#111","strokeWidth":1.2,"interpolate":"monotone"},"encoding":{"x":{"field":"x","type":"quantitative","axis":null},"y":{"field":"v","type":"quantitative","axis":null}}},
{"data":{"values":[{"t":"Spearman","tx":5.5,"ty":0.423}]},"mark":{"type":"text","align":"left","baseline":"middle","dx":0},"encoding":{"x":{"field":"tx","type":"quantitative","axis":null},"y":{"field":"ty","type":"quantitative","axis":null},"text":{"field":"t"}}},
{"data":{"values":[{"t":"r","tx":5.5,"ty":0.423}]},"mark":{"type":"text","align":"left","baseline":"middle","dx":45.5,"fontStyle":"italic"},"encoding":{"x":{"field":"tx","type":"quantitative","axis":null},"y":{"field":"ty","type":"quantitative","axis":null},"text":{"field":"t"}}},
{"data":{"values":[{"t":"0.41,","tx":5.5,"ty":0.423}]},"mark":{"type":"text","align":"left","baseline":"middle","dx":51.2},"encoding":{"x":{"field":"tx","type":"quantitative","axis":null},"y":{"field":"ty","type":"quantitative","axis":null},"text":{"field":"t"}}},
{"data":{"values":[{"t":"P=0.0637","tx":5.5,"ty":0.423}]},"mark":{"type":"text","align":"left","baseline":"middle","dx":74.5,"fontStyle":"italic"},"encoding":{"x":{"field":"tx","type":"quantitative","axis":null},"y":{"field":"ty","type":"quantitative","axis":null},"text":{"field":"t"}}},
{"data":{"values":[{"t":"l","tx":0,"ty":0.4}]},"mark":{"type":"text","align":"left","baseline":"top","dx":-31,"dy":-36,"fontSize":13.5,"fontWeight":"bold","color":"#000"},"encoding":{"x":{"field":"tx","type":"quantitative","axis":null},"y":{"field":"ty","type":"quantitative","axis":null},"text":{"field":"t"}}}
]}
],"spacing":15,"bounds":"flush","resolve":{"scale":{"color":"independent","shape":"independent"},"legend":{"color":"independent","shape":"independent"}}},
{"hconcat":[
{"width":262,"height":115,"resolve":{"axis":{"x":"independent","y":"independent"}},
"layer":[
{"data":{"name":"mm"},"mark":{"type":"point","filled":false,"strokeWidth":1.3,"size":20,"opacity":1},"encoding":{"x":{"field":"x","type":"quantitative","scale":{"domain":[-0.67,10.34],"nice":false,"zero":false},"axis":{"values":[0,1,2,3,4,5,6,7,8,9,10],"labelExpr":"['Input HSPCs','Engrafted HSPCs','Engrafted B cells','Engrafted erythroid','Engrafted BM','','Input HSPCs','Engrafted HSPCs','Engrafted B cells','Engrafted erythroid','Engrafted BM'][datum.value]","labelAngle":-45,"labelAlign":"right","labelBaseline":"top","labelOverlap":false,"title":null}},"y":{"field":"v","type":"quantitative","scale":{"domain":[0,120],"nice":false},"axis":{"values":[0,20,40,60,80,100,120],"labelOverlap":false,"title":"Edits (%)"}},
"color":{"field":"d","type":"nominal","scale":{"domain":["Donor 6","Donor 7","Donor 8"],"range":["#EE3A8C","#2E6BC4","#C97A3D"]},"legend":null},
"shape":{"field":"d","type":"nominal","scale":{"domain":["Donor 6","Donor 7","Donor 8"],"range":["triangle-down","square","triangle-up"]},"legend":null}}},
{"data":{"name":"mm"},"mark":{"type":"tick","orient":"horizontal","color":"#111","thickness":1.5,"size":18},"encoding":{"x":{"field":"g","type":"quantitative","axis":null},"y":{"field":"v","aggregate":"median","type":"quantitative","axis":null}}},
{"data":{"name":"msig"},"mark":{"type":"rule","color":"#999","strokeWidth":1.4},"encoding":{"x":{"field":"x1","type":"quantitative","axis":null},"x2":{"field":"x2"},"y":{"field":"y","type":"quantitative","axis":null}}},
{"data":{"name":"msig"},"mark":{"type":"text","baseline":"alphabetic","dy":-2},"encoding":{"x":{"field":"xm","type":"quantitative","axis":null},"y":{"field":"y","type":"quantitative","axis":null},"text":{"field":"lab"}}},
{"data":{"name":"mgrp"},"mark":{"type":"rule","color":"#222","strokeWidth":1.2},"encoding":{"x":{"field":"x1","type":"quantitative","axis":null},"x2":{"field":"x2"},"y":{"field":"y","type":"quantitative","axis":null}}},
{"data":{"name":"mgrp"},"mark":{"type":"text","baseline":"top","dy":1,"fontSize":9},"encoding":{"x":{"field":"xm","type":"quantitative","axis":null},"y":{"field":"y","type":"quantitative","axis":null},"text":{"field":"lab"}}},
{"data":{"values":[{"xa":0,"ya":149.2,"yb":-36.5}]},"mark":{"type":"rule","opacity":0},"encoding":{"x":{"field":"xa","type":"quantitative","axis":null},"y":{"field":"ya","type":"quantitative","axis":null},"y2":{"field":"yb"}}},
{"data":{"values":[{"t":"m","tx":-0.67,"ty":120}]},"mark":{"type":"text","align":"left","baseline":"top","dx":-42,"dy":-26,"fontSize":13.5,"fontWeight":"bold","color":"#000"},"encoding":{"x":{"field":"tx","type":"quantitative","axis":null},"y":{"field":"ty","type":"quantitative","axis":null},"text":{"field":"t"}}}
]},
{"width":35,"height":1,"data":{"values":[]},"mark":"point"},
{"width":62,"height":114,"resolve":{"axis":{"x":"independent","y":"independent"}},
"layer":[
{"data":{"name":"nbar"},"mark":{"type":"bar","width":13},"encoding":{"x":{"field":"x","type":"quantitative","scale":{"domain":[-0.947,2.316],"nice":false,"zero":false},"axis":{"values":[0,1,2],"labelExpr":"['Mock','1 EP','2 EP'][datum.value]","labelAngle":-45,"labelAlign":"right","labelBaseline":"top","labelOverlap":false,"title":null}},"y":{"field":"lo","type":"quantitative","scale":{"domain":[0,100],"nice":false},"axis":{"values":[0,20,40,60,80,100],"labelOverlap":false,"title":"Human cells (%)"}},"y2":{"field":"hi"},
"color":{"field":"cat","type":"nominal","scale":{"domain":["CD19-CD33-","Myeloid","B cell"],"range":["#4A62B2","#F6A05A","#8D5DA9"]},"legend":{"orient":"none","legendX":78,"legendY":-2,"title":null,"padding":0,"symbolType":"M-1,-0.5H1V0.5H-1Z","symbolSize":144,"labelOffset":7,"rowPadding":5,"symbolStrokeWidth":0}}}},
{"data":{"name":"ndot"},"mark":{"type":"circle","size":8,"color":"#111","opacity":1},"encoding":{"x":{"field":"x","type":"quantitative","axis":null},"y":{"field":"v","type":"quantitative","axis":null}}},
{"data":{"values":[{"t":"n","tx":-0.947,"ty":100}]},"mark":{"type":"text","align":"left","baseline":"top","dx":-36,"dy":-26,"fontSize":13.5,"fontWeight":"bold","color":"#000"},"encoding":{"x":{"field":"tx","type":"quantitative","axis":null},"y":{"field":"ty","type":"quantitative","axis":null},"text":{"field":"t"}}}
]},
{"width":106,"height":1,"data":{"values":[]},"mark":"point"},
{"width":75,"height":113.4,"resolve":{"axis":{"x":"independent","y":"independent"}},
"layer":[
{"data":{"name":"do"},"mark":{"type":"point","filled":false,"strokeWidth":1.3,"size":20,"opacity":1},"encoding":{"x":{"field":"x","type":"quantitative","scale":{"domain":[-1.0,2.26],"nice":false,"zero":false},"axis":{"values":[0,1,2],"labelExpr":"['Mock','1 EP','2 EP'][datum.value]","labelAngle":-45,"labelAlign":"right","labelBaseline":"top","labelOverlap":false,"title":null}},"y":{"field":"v","type":"quantitative","scale":{"domain":[0,0.4],"nice":false},"axis":{"values":[0,0.1,0.2,0.3,0.4],"format":".1f","labelOverlap":false,"title":null}},
"color":{"field":"d","type":"nominal","scale":{"domain":["Donor 6","Donor 7","Donor 8"],"range":["#EE3A8C","#2E6BC4","#C97A3D"]},"legend":null},
"shape":{"field":"d","type":"nominal","scale":{"domain":["Donor 6","Donor 7","Donor 8"],"range":["triangle-down","square","triangle-up"]},"legend":null}}},
{"data":{"name":"do"},"mark":{"type":"tick","orient":"horizontal","color":"#111","thickness":1.5,"size":18},"encoding":{"x":{"field":"g","type":"quantitative","axis":null},"y":{"field":"v","aggregate":"median","type":"quantitative","axis":null}}},
{"data":{"name":"osig"},"mark":{"type":"rule","color":"#999","strokeWidth":1.4},"encoding":{"x":{"field":"x1","type":"quantitative","axis":null},"x2":{"field":"x2"},"y":{"field":"y","type":"quantitative","axis":null}}},
{"data":{"name":"osig"},"mark":{"type":"text","baseline":"alphabetic","dy":-2},"encoding":{"x":{"field":"xm","type":"quantitative","axis":null},"y":{"field":"y","type":"quantitative","axis":null},"text":{"field":"lab"}}},
{"data":{"values":[{"t":"BCL11A","tx":-2.0,"ty":0.2}]},"mark":{"type":"text","angle":270,"align":"left","baseline":"middle","fontStyle":"italic","dx":-50.4},"encoding":{"x":{"field":"tx","type":"quantitative","axis":null},"y":{"field":"ty","type":"quantitative","axis":null},"text":{"field":"t"}}},
{"data":{"values":[{"t":"(erythroid cells)","tx":-2.0,"ty":0.2}]},"mark":{"type":"text","angle":270,"align":"left","baseline":"middle","dx":-13.2},"encoding":{"x":{"field":"tx","type":"quantitative","axis":null},"y":{"field":"ty","type":"quantitative","axis":null},"text":{"field":"t"}}},
{"data":{"values":[{"t":"o","tx":-1.0,"ty":0.4}]},"mark":{"type":"text","align":"left","baseline":"top","dx":-35,"dy":-26,"fontSize":13.5,"fontWeight":"bold","color":"#000"},"encoding":{"x":{"field":"tx","type":"quantitative","axis":null},"y":{"field":"ty","type":"quantitative","axis":null},"text":{"field":"t"}}}
]},
{"width":35,"height":1,"data":{"values":[]},"mark":"point"},
{"width":69,"height":113.4,"resolve":{"axis":{"x":"independent","y":"independent"}},
"layer":[
{"data":{"name":"dp"},"mark":{"type":"point","filled":false,"strokeWidth":1.3,"size":20,"opacity":1},"encoding":{"x":{"field":"x","type":"quantitative","scale":{"domain":[-0.88,2.33],"nice":false,"zero":false},"axis":{"values":[0,1,2],"labelExpr":"['Mock','1 EP','2 EP'][datum.value]","labelAngle":-45,"labelAlign":"right","labelBaseline":"top","labelOverlap":false,"title":null}},"y":{"field":"v","type":"quantitative","scale":{"domain":[0,2],"nice":false},"axis":{"values":[0,0.5,1,1.5,2],"format":".1f","labelOverlap":false,"title":null}},
"color":{"field":"d","type":"nominal","scale":{"domain":["Donor 6","Donor 7","Donor 8"],"range":["#EE3A8C","#2E6BC4","#C97A3D"]},"legend":null},
"shape":{"field":"d","type":"nominal","scale":{"domain":["Donor 6","Donor 7","Donor 8"],"range":["triangle-down","square","triangle-up"]},"legend":null}}},
{"data":{"name":"dp"},"mark":{"type":"tick","orient":"horizontal","color":"#111","thickness":1.5,"size":18},"encoding":{"x":{"field":"g","type":"quantitative","axis":null},"y":{"field":"v","aggregate":"median","type":"quantitative","axis":null}}},
{"data":{"name":"psig"},"mark":{"type":"rule","color":"#aaa","strokeWidth":1.4},"encoding":{"x":{"field":"x1","type":"quantitative","axis":null},"x2":{"field":"x2"},"y":{"field":"y","type":"quantitative","axis":null}}},
{"data":{"name":"psig"},"mark":{"type":"text","baseline":"alphabetic","dy":-2},"encoding":{"x":{"field":"xm","type":"quantitative","axis":null},"y":{"field":"y","type":"quantitative","axis":null},"text":{"field":"lab"}}},
{"data":{"values":[{"t":"BCL11A","tx":-1.95,"ty":1.0}]},"mark":{"type":"text","angle":270,"align":"left","baseline":"middle","fontStyle":"italic","dx":-35.4},"encoding":{"x":{"field":"tx","type":"quantitative","axis":null},"y":{"field":"ty","type":"quantitative","axis":null},"text":{"field":"t"}}},
{"data":{"values":[{"t":"(B cells)","tx":-1.95,"ty":1.0}]},"mark":{"type":"text","angle":270,"align":"left","baseline":"middle","dx":1.8},"encoding":{"x":{"field":"tx","type":"quantitative","axis":null},"y":{"field":"ty","type":"quantitative","axis":null},"text":{"field":"t"}}},
{"data":{"values":[{"t":"p","tx":-0.88,"ty":2}]},"mark":{"type":"text","align":"left","baseline":"top","dx":-45,"dy":-26,"fontSize":13.5,"fontWeight":"bold","color":"#000"},"encoding":{"x":{"field":"tx","type":"quantitative","axis":null},"y":{"field":"ty","type":"quantitative","axis":null},"text":{"field":"t"}}}
]}
],"spacing":15,"bounds":"flush","resolve":{"scale":{"color":"independent","shape":"independent"},"legend":{"color":"independent","shape":"independent"}}}
],
"config":{
"font":"Liberation Sans",
"view":{"stroke":null},
"axis":{"domainColor":"#222","domainWidth":1.4,"tickColor":"#222","tickWidth":1.4,"tickSize":3.5,"labelFont":"Liberation Sans","labelFontSize":9.3,"labelColor":"#222","titleFont":"Liberation Sans","titleFontSize":9.3,"titleFontWeight":"normal","titleColor":"#222","grid":false,"labelPadding":2,"titlePadding":6,"labelFlush":false,"labelOverlap":false},
"legend":{"labelFont":"Liberation Sans","labelFontSize":9.3,"labelColor":"#222"},
"text":{"font":"Liberation Sans","fontSize":9.3,"color":"#222"}
}
}
